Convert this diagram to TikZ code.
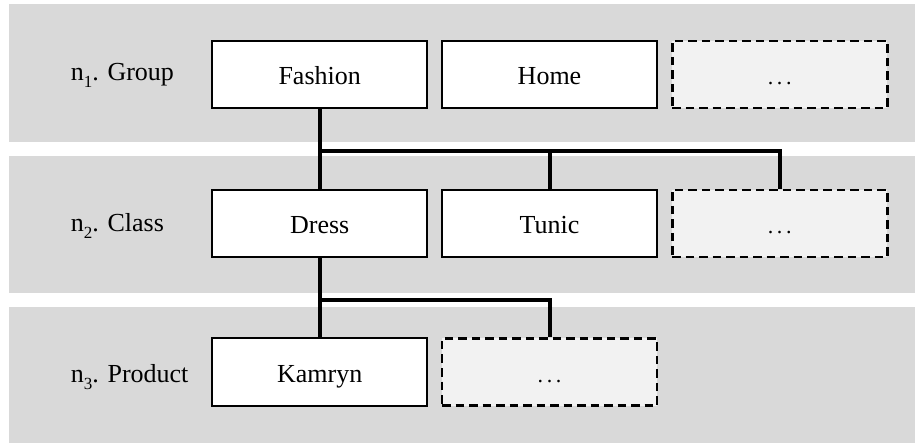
\documentclass[tikz,border=0pt]{standalone}
\usepackage{fontspec}
\setmainfont{Liberation Serif}
\definecolor{band}{RGB}{217,217,217}
\definecolor{ghost}{RGB}{242,242,242}
\newcommand{\lvl}[2]{n\raisebox{-7pt}{\fontsize{17}{17}\selectfont #1}. #2}
\newcommand{\moredots}{{\fontsize{22}{24}\selectfont .\kern3.7pt.\kern3.7pt.}}
\begin{document}
\begin{tikzpicture}[x=1pt,y=-1pt,
  every node/.style={font=\fontsize{26}{30}\selectfont},
  cat/.style={draw=black, line width=2pt, fill=white, minimum width=215pt, minimum height=67pt, inner sep=0pt, text height=21pt, text depth=0pt},
  more/.style={cat, fill=ghost, line width=2.6pt, dash pattern=on 8.5pt off 5pt},
  conn/.style={line width=4pt, line join=miter},
  lvllabel/.style={anchor=base west, inner sep=0pt}]
\useasboundingbox (0,0) rectangle (915,443);
% bands
\fill[band] (9,4) rectangle (915,141.7);
\fill[band] (9,155.7) rectangle (915,293.3);
\fill[band] (9,306.7) rectangle (915,443);
% level labels
\node[lvllabel] (l1) at (70.7,80.7) {\lvl{1}{Group}};
\node[lvllabel] (l2) at (70.7,231.7) {\lvl{2}{Class}};
\node[lvllabel] (l3) at (70.7,382.7) {\lvl{3}{Product}};
% boxes
\node[cat] (fashion) at (319.7,74.5) {Fashion};
\node[cat] (home) at (549.5,74.5) {Home};
\node[more] (more1) at (779.7,74.5) {\moredots};
\node[cat] (dress) at (319.7,223.5) {Dress};
\node[cat] (tunic) at (549.5,223.5) {Tunic};
\node[more] (more2) at (779.7,223.5) {\moredots};
\node[cat] (kamryn) at (319.7,372) {Kamryn};
\node[more] (more3) at (549.5,372) {\moredots};
% buses
\coordinate (bus1) at (0,150.7);
\coordinate (bus2) at (0,300);
\draw[conn] (fashion.south) -- (dress.north);
\draw[conn] (fashion.south |- bus1) -| (more2.north);
\draw[conn] (tunic.north) -- (tunic.north |- bus1);
\draw[conn] (dress.south) -- (kamryn.north);
\draw[conn] (dress.south |- bus2) -| (more3.north);
\end{tikzpicture}
\end{document}
